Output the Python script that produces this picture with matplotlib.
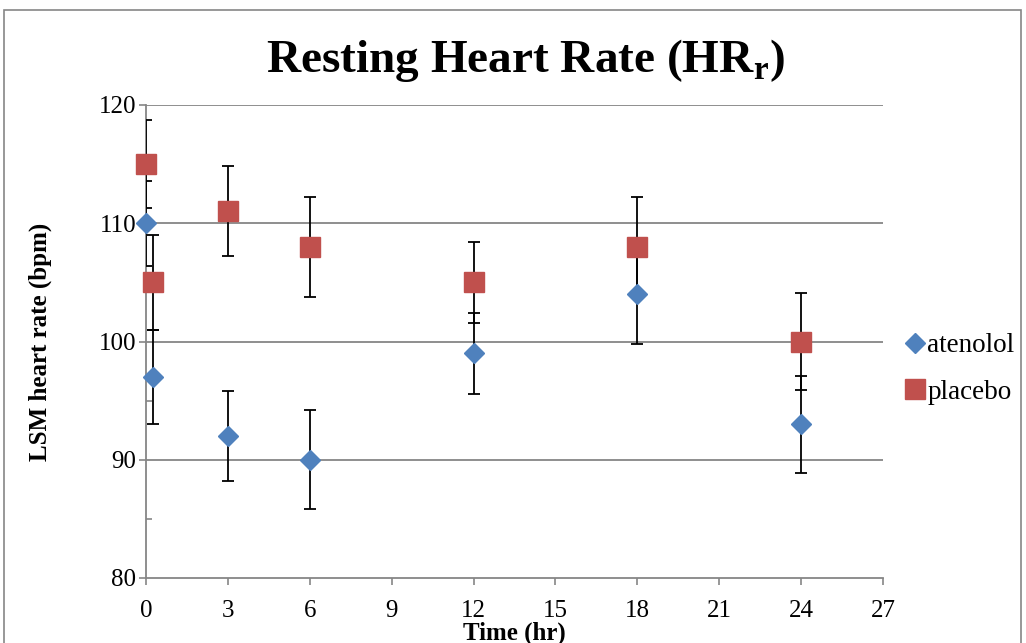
import numpy as np
import matplotlib
matplotlib.use("Agg")
import matplotlib.pyplot as plt
from matplotlib.patches import Rectangle

# data
time_hr = [0, 0.25, 3, 6, 12, 18, 24]
atenolol = [110, 97, 92, 90, 99, 104, 93]
atenolol_err = [3.6, 4.0, 3.8, 4.2, 3.4, 4.2, 4.1]
placebo = [115, 105, 111, 108, 105, 108, 100]
placebo_err = [3.7, 4.0, 3.8, 4.2, 3.4, 4.2, 4.1]
x_ticks = [0, 3, 6, 9, 12, 15, 18, 21, 24, 27]
y_ticks = [80, 90, 100, 110, 120]

plt.rcParams["font.family"] = ["Liberation Serif", "DejaVu Serif"]
plt.rcParams["mathtext.fontset"] = "custom"
plt.rcParams["mathtext.rm"] = "Liberation Serif"
plt.rcParams["mathtext.bf"] = "Liberation Serif:bold"

GREY = "#868686"
BLUE = "#4F81BD"
RED = "#C0504D"

fig = plt.figure(figsize=(10.26, 6.43), dpi=100)
W, H = 1026, 643
ax = fig.add_axes([146 / W, 1 - 578 / H, (883 - 146) / W, (578 - 105) / H])

# outer chart border
fig.patches.append(Rectangle((4 / W, -0.05), (1021 - 4) / W, 1 - 10 / H + 0.05,
                             transform=fig.transFigure, fill=False,
                             edgecolor=GREY, linewidth=1.2))

for y in y_ticks[1:]:
    ax.axhline(y, color=GREY, lw=1.3, zorder=1)

for vals, err in ((atenolol, atenolol_err), (placebo, placebo_err)):
    ax.errorbar(time_hr, vals, yerr=err, fmt="none", ecolor="black",
                elinewidth=1.3, capsize=4, capthick=1.3, zorder=3)

ax.plot(time_hr, atenolol, "D", color=BLUE, ms=10.2, mec=BLUE,
        label="atenolol", zorder=4, clip_on=False)
ax.plot(time_hr, placebo, "s", color=RED, ms=14.5, mec=RED,
        label="placebo", zorder=4, clip_on=False)

ax.set_xlim(0, 27)
ax.set_ylim(80, 120)
ax.set_xticks(x_ticks)
ax.set_yticks(y_ticks)
ax.set_yticks([85, 95, 105, 115], minor=True)
ax.tick_params(axis="both", which="major", direction="out", length=5,
               color=GREY, width=1.2, labelsize=18, pad=2)
ax.tick_params(axis="x", which="major", pad=10.5)
ax.tick_params(axis="y", which="minor", direction="in", length=4,
               color=GREY, width=1.2)
for s in ("top", "right"):
    ax.spines[s].set_visible(False)
for s in ("left", "bottom"):
    ax.spines[s].set_color(GREY)
    ax.spines[s].set_linewidth(1.3)

ax.set_xlabel("Time (hr)", fontsize=18, fontweight="bold", labelpad=0)
ax.set_ylabel("LSM heart rate (bpm)", fontsize=18, fontweight="bold", labelpad=34)
fig.text(525 / W, 1 - 60 / H, r"Resting Heart Rate (HR$_{\mathbf{r}}$)",
         ha="center", va="center", fontsize=34, fontweight="bold")

ax.legend(loc="center left", bbox_to_anchor=(903 / W, 1 - 369 / H),
          bbox_transform=fig.transFigure, frameon=False, fontsize=19.5,
          handletextpad=0.0, labelspacing=0.78, handlelength=0.9,
          borderaxespad=0, borderpad=0)

fig.savefig("out.png", dpi=100)
